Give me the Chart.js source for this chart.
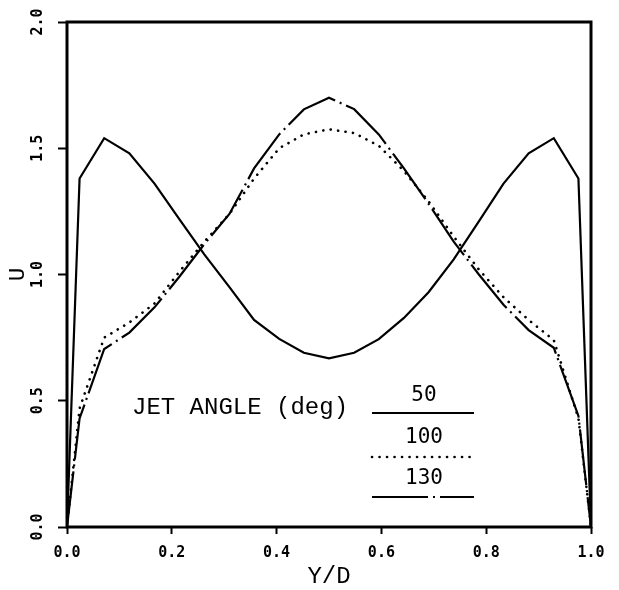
<!DOCTYPE html>
<html>
<head>
<meta charset="utf-8">
<script src="https://cdn.jsdelivr.net/npm/chart.js@4/dist/chart.umd.min.js"></script>
<style>
  body { margin: 0; background: #fff; }
  #wrap { width: 619px; height: 590px; }
</style>
</head>
<body>
<div id="wrap"><canvas id="chart" width="619" height="590"></canvas></div>
<script>
// Y/D positions of the computed points
const ydPos = [0, 0.024, 0.071, 0.119, 0.167, 0.214, 0.262, 0.310, 0.357, 0.405, 0.452, 0.500,
               0.548, 0.595, 0.643, 0.690, 0.738, 0.786, 0.833, 0.881, 0.929, 0.976, 1.0];

// U for each jet angle
const u50  = [0, 1.38, 1.54, 1.48, 1.36, 1.22, 1.08, 0.95, 0.82, 0.745, 0.69, 0.668,
              0.69, 0.744, 0.828, 0.93, 1.06, 1.21, 1.36, 1.48, 1.54, 1.38, 0];
const u100 = [0, 0.47, 0.75, 0.81, 0.885, 1.01, 1.13, 1.24, 1.38, 1.50, 1.555, 1.575,
              1.56, 1.51, 1.41, 1.29, 1.15, 1.02, 0.91, 0.82, 0.74, 0.43, 0];
const u130 = [0, 0.43, 0.705, 0.77, 0.87, 0.99, 1.12, 1.24, 1.42, 1.555, 1.654, 1.70,
              1.655, 1.555, 1.42, 1.28, 1.13, 1.00, 0.88, 0.78, 0.71, 0.44, 0];

const angleLabels = ['50', '100', '130'];
const xTicks = [0, 0.2, 0.4, 0.6, 0.8, 1.0];
const yTicks = [0, 0.5, 1.0, 1.5, 2.0];

function pts(u) {
    return ydPos.map((x, i) => ({ x: x, y: u[i] }));
}

const tickFont = { family: 'DejaVu Sans Mono', size: 15, weight: 'bold' };
const monoFont = 'Liberation Mono, Courier New, monospace';

const styles = [
    { borderWidth: 2.2, borderDash: [] },
    { borderWidth: 2.6, borderDash: [0.1, 7.4], borderCapStyle: 'round' },
    { borderWidth: 2.2, borderDash: [56, 5, 2, 5] }
];

// box round the plot area
const frame = {
    id: 'frame',
    afterDatasetsDraw(chart) {
        const a = chart.chartArea;
        const ctx = chart.ctx;
        ctx.save();
        ctx.strokeStyle = '#000';
        ctx.lineWidth = 3;
        ctx.strokeRect(a.left, a.top, a.right - a.left, a.bottom - a.top);
        ctx.restore();
    }
};

// legend drawn inside the plot
const jetLegend = {
    id: 'jetLegend',
    afterDraw(chart) {
        const ctx = chart.ctx;
        ctx.save();
        ctx.fillStyle = '#000';
        ctx.textBaseline = 'middle';
        ctx.textAlign = 'left';
        ctx.font = '24px ' + monoFont;
        ctx.fillText('JET ANGLE (deg)', 132, 408);

        const rows = [396, 438, 479];
        const lines = [413, 457, 497];
        ctx.font = '21px DejaVu Sans Mono';
        ctx.textAlign = 'center';
        for (let i = 0; i < 3; i++) {
            ctx.fillText(angleLabels[i], 424, rows[i]);
            ctx.beginPath();
            ctx.lineWidth = styles[i].borderWidth;
            ctx.lineCap = styles[i].borderCapStyle || 'butt';
            ctx.setLineDash(styles[i].borderDash);
            ctx.moveTo(372, lines[i]);
            ctx.lineTo(474, lines[i]);
            ctx.stroke();
        }
        ctx.restore();
    }
};

const series = [u50, u100, u130];

new Chart(document.getElementById('chart'), {
    type: 'line',
    data: {
        datasets: series.map((u, i) => Object.assign({
            label: angleLabels[i],
            data: pts(u),
            borderColor: '#000',
            pointRadius: 0,
            tension: 0,
            fill: false
        }, styles[i]))
    },
    options: {
        responsive: false,
        animation: false,
        events: [],
        layout: { padding: { top: 22, right: 28, left: 0, bottom: 0 } },
        plugins: { legend: { display: false }, tooltip: { enabled: false } },
        scales: {
            x: {
                type: 'linear',
                min: 0,
                max: 1,
                afterBuildTicks(scale) { scale.ticks = xTicks.map(v => ({ value: v })); },
                afterFit(scale) { scale.height = 63; },
                border: { display: false },
                grid: { drawOnChartArea: false, drawTicks: true, tickLength: 7, tickWidth: 2, tickColor: '#000' },
                ticks: {
                    color: '#000',
                    font: tickFont,
                    padding: 10,
                    maxRotation: 0,
                    callback: v => v.toFixed(1)
                },
                title: {
                    display: true,
                    text: 'Y/D',
                    color: '#000',
                    font: { family: monoFont, size: 24, lineHeight: 1 },
                    padding: { top: 0, bottom: 1 }
                }
            },
            y: {
                type: 'linear',
                min: 0,
                max: 2,
                afterBuildTicks(scale) { scale.ticks = yTicks.map(v => ({ value: v })); },
                afterFit(scale) { scale.width = 67; },
                border: { display: false },
                grid: { drawOnChartArea: false, drawTicks: true, tickLength: 9, tickWidth: 2, tickColor: '#000' },
                ticks: {
                    color: '#000',
                    font: tickFont,
                    padding: 6,
                    minRotation: 90,
                    maxRotation: 90,
                    crossAlign: 'center',
                    callback: v => v.toFixed(1)
                },
                title: {
                    display: true,
                    text: 'U',
                    color: '#000',
                    font: { family: monoFont, size: 22, lineHeight: 1 },
                    padding: { top: 7, bottom: 0 }
                }
            }
        }
    },
    plugins: [frame, jetLegend]
});
</script>
</body>
</html>
